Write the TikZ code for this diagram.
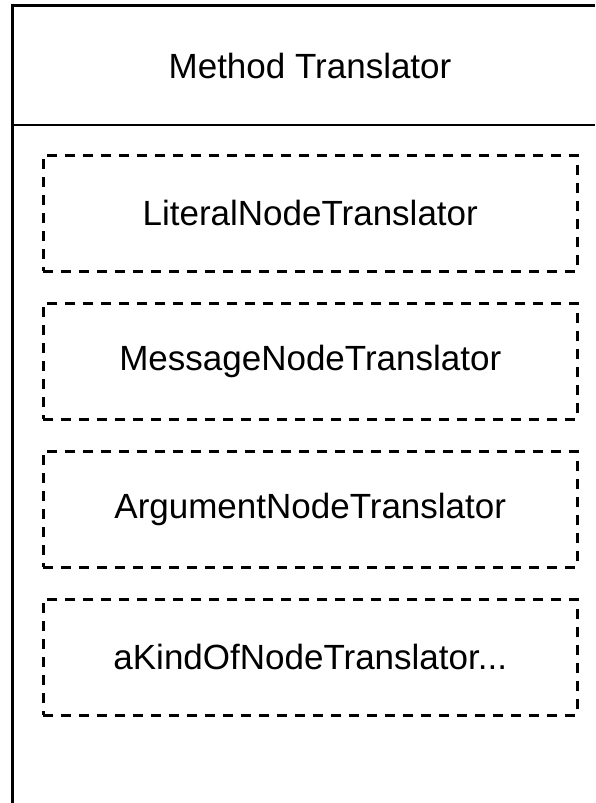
\documentclass[tikz,border=0pt]{standalone}
\usepackage{fontspec}
\setmainfont{Liberation Sans}
\begin{document}
\begin{tikzpicture}[x=1pt,y=-1pt,
  label text/.style={font=\fontsize{35}{42}\selectfont, text=black, inner sep=0pt},
  part box/.style={draw=black, line width=2.5pt, dash pattern=on 10pt off 8pt,
    minimum width=534pt, minimum height=116pt, inner sep=0pt, anchor=north west,
    font=\fontsize{35}{42}\selectfont}
]
  \useasboundingbox (0,0) rectangle (595,803);
  \fill[white] (0,0) rectangle (595,803);

  % outer container (open to the right and bottom)
  \coordinate (cbl) at (12.5,803);
  \coordinate (ctl) at (12.5,5.5);
  \coordinate (ctr) at (595,5.5);
  \draw[line width=3pt, line join=miter] (cbl) -- (ctl) -- (ctr);

  % header separator
  \coordinate (hl) at (12.5,125);
  \coordinate (hr) at (595,125);
  \draw[line width=2.5pt] (hl) -- (hr);

  \node[label text] (title) at (310,66) {Method Translator};

  % translator parts
  \node[part box] (lit) at (42,154) {LiteralNodeTranslator};
  \node[part box] (msg) at (42,302) {MessageNodeTranslator};
  \node[part box] (arg) at (42,450) {ArgumentNodeTranslator};
  \node[part box] (kind) at (42,598) {aKindOfNodeTranslator...};
\end{tikzpicture}
\end{document}
